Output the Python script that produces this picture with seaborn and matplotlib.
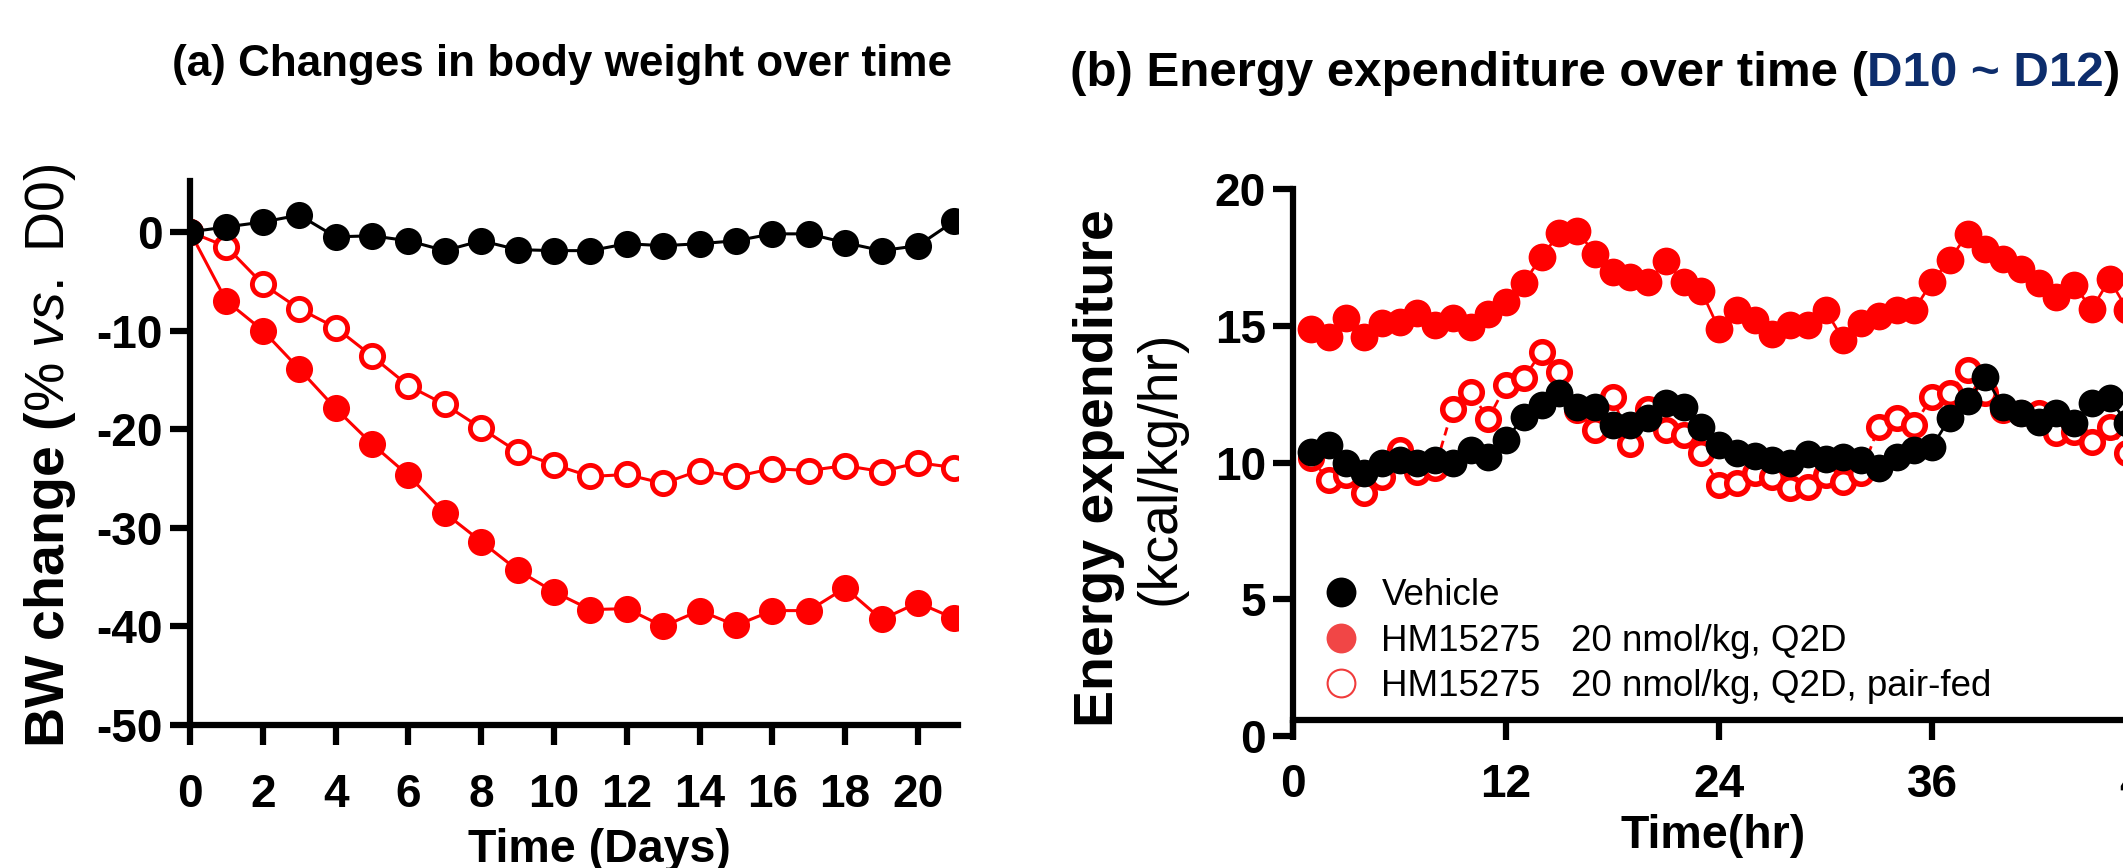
import numpy as np
import pandas as pd
import matplotlib
matplotlib.use("Agg")
import matplotlib.pyplot as plt
import seaborn as sns
from matplotlib.lines import Line2D

# ---- data ----
days = list(range(0, 22))
bw_vehicle = [0, 0.5, 1.0, 1.7, -0.5, -0.4, -0.9, -1.9, -0.9, -1.8, -1.9,
              -1.9, -1.2, -1.4, -1.2, -0.9, -0.2, -0.2, -1.1, -1.9, -1.4, 1.1]
bw_hm = [0, -7.0, -10.0, -13.9, -17.9, -21.5, -24.7, -28.5, -31.4, -34.3, -36.5,
         -38.3, -38.2, -40.0, -38.4, -39.9, -38.4, -38.4, -36.1, -39.3, -37.6, -39.2]
bw_pairfed = [0, -1.5, -5.3, -7.8, -9.7, -12.6, -15.6, -17.5, -19.9, -22.3, -23.6,
              -24.8, -24.6, -25.5, -24.2, -24.8, -24.0, -24.2, -23.7, -24.3, -23.4, -23.9]

hours = list(range(1, 48))
ee_vehicle = [10.40, 10.65, 9.98, 9.61, 9.98, 10.10, 9.98, 10.10, 9.98, 10.46, 10.22, 10.83,
              11.68, 12.11, 12.54, 12.05, 12.05, 11.38, 11.38, 11.63, 12.17, 12.05, 11.32, 10.65,
              10.34, 10.24, 10.10, 9.98, 10.32, 10.12, 10.19, 10.10, 9.79, 10.22, 10.46, 10.58,
              11.63, 12.24, 13.15, 12.03, 11.81, 11.50, 11.81, 11.44, 12.17, 12.35, 11.44]
ee_hm = [14.88, 14.60, 15.28, 14.60, 15.10, 15.16, 15.46, 15.04, 15.28, 14.98, 15.44, 15.89,
         16.59, 17.52, 18.39, 18.49, 17.64, 16.99, 16.78, 16.62, 17.36, 16.62, 16.29, 14.88,
         15.59, 15.22, 14.71, 15.04, 15.04, 15.59, 14.49, 15.10, 15.37, 15.59, 15.59, 16.62,
         17.42, 18.37, 17.81, 17.44, 17.08, 16.56, 16.07, 16.50, 15.61, 16.71, 15.59]
ee_pairfed = [10.16, 9.37, 9.55, 8.88, 9.49, 10.46, 9.67, 9.80, 11.98, 12.59, 11.61, 12.83,
              13.08, 14.06, 13.33, 11.92, 11.19, 12.41, 10.70, 11.98, 11.19, 11.01, 10.34, 9.18,
              9.24, 9.61, 9.49, 9.06, 9.12, 9.55, 9.30, 9.61, 11.32, 11.62, 11.38, 12.41,
              12.53, 13.39, 12.53, 11.92, 11.80, 11.80, 11.07, 11.13, 10.77, 11.32, 10.34]

legend_labels = ["Vehicle",
                 "HM15275" + " " * 3 + "20 nmol/kg, Q2D",
                 "HM15275" + " " * 3 + "20 nmol/kg, Q2D, pair-fed"]

df_bw = pd.DataFrame({"day": days, "veh": bw_vehicle, "hm": bw_hm, "pf": bw_pairfed})
df_ee = pd.DataFrame({"hr": hours, "veh": ee_vehicle, "hm": ee_hm, "pf": ee_pairfed})

sns.set_style("ticks")
plt.rcParams["font.family"] = ["Liberation Sans", "DejaVu Sans"]
plt.rcParams["mathtext.fontset"] = "custom"
plt.rcParams["mathtext.rm"] = "Liberation Sans"
plt.rcParams["mathtext.it"] = "Liberation Sans:italic"
plt.rcParams["mathtext.bf"] = "Liberation Sans:bold"
plt.rcParams["axes.unicode_minus"] = False
for key in ("text.color", "axes.edgecolor", "axes.labelcolor", "xtick.color", "ytick.color"):
    plt.rcParams[key] = "black"

W, H = 2123, 868
RED = "#ff0000"
fig = plt.figure(figsize=(W / 100, H / 100), dpi=100)


def box(x0, y0, x1, y1):
    # pixel box (top-left origin) -> figure fraction
    return [x0 / W, 1 - y1 / H, (x1 - x0) / W, (y1 - y0) / H]


ax1 = fig.add_axes(box(190, 180.6, 958, 725))
ax2 = fig.add_axes(box(1293, 189.3, 2145, 736))

# (a) body weight
sns.lineplot(data=df_bw, x="day", y="hm", ax=ax1, color=RED, lw=2.2, marker="o",
             markersize=19.5, markeredgewidth=0, markeredgecolor=RED, errorbar=None)
sns.lineplot(data=df_bw, x="day", y="pf", ax=ax1, color=RED, lw=2.2, marker="o",
             markersize=16, markerfacecolor="white", markeredgecolor=RED,
             markeredgewidth=3.5, errorbar=None)
sns.lineplot(data=df_bw, x="day", y="veh", ax=ax1, color="black", lw=2.2, marker="o",
             markersize=19.5, markeredgewidth=0, markeredgecolor="black", errorbar=None)
ax1.set_xlim(0, 21.1)
ax1.set_ylim(-50, 5.2)
ax1.set_xticks(range(0, 21, 2))
ax1.set_yticks(range(-50, 1, 10))

# (b) energy expenditure
sns.lineplot(data=df_ee, x="hr", y="hm", ax=ax2, color=RED, lw=2, marker="o",
             markersize=20, markeredgewidth=0, markeredgecolor=RED, errorbar=None)
sns.lineplot(data=df_ee, x="hr", y="pf", ax=ax2, color=RED, lw=2, linestyle=(0, (3, 2)),
             marker="o", markersize=15.5, markerfacecolor="white", markeredgecolor=RED,
             markeredgewidth=4, errorbar=None)
sns.lineplot(data=df_ee, x="hr", y="veh", ax=ax2, color="black", lw=2, marker="o",
             markersize=20, markeredgewidth=0, markeredgecolor="black", errorbar=None)
ax2.set_xlim(0, 48)
ax2.set_ylim(0, 20)
ax2.set_xticks([0, 12, 24, 36, 48])
ax2.set_yticks([0, 5, 10, 15, 20])
ax2.spines["bottom"].set_position(("data", 0.6))

for ax, xpad in ((ax1, 20), (ax2, 17)):
    ax.set_xlabel("")
    ax.set_ylabel("")
    for side in ("top", "right"):
        ax.spines[side].set_visible(False)
    for side in ("left", "bottom"):
        ax.spines[side].set_linewidth(4.5)
        ax.spines[side].set_color("black")
        ax.spines[side].set_capstyle("projecting")
    ax.tick_params(axis="both", width=4.5, length=14.5, labelsize=33, color="black",
                   labelcolor="black")
    ax.tick_params(axis="x", pad=xpad)
    ax.tick_params(axis="y", pad=5)
    plt.setp(ax.get_xticklabels() + ax.get_yticklabels(), fontweight="bold")
    ax.patch.set_alpha(0)

# axis titles
fig.text(50 / W, 1 - 455.5 / H,
         r"$\mathbf{BW\ change\ (}\mathrm{\%\ }\mathit{vs.}\mathrm{\ D0)}$",
         rotation=90, ha="center", va="center", fontsize=40)
fig.text(1099 / W, 1 - 468 / H, "Energy expenditure", rotation=90, ha="center",
         va="center", fontsize=40, fontweight="bold")
fig.text(1161 / W, 1 - 468 / H, "(kcal/kg/hr)", rotation=90, ha="center",
         va="center", fontsize=40)
fig.text(599.5 / W, 1 - 862 / H, "Time (Days)", ha="center", va="baseline",
         fontsize=33.5, fontweight="bold")
fig.text(1713.5 / W, 1 - 848 / H, "Time(hr)", ha="center", va="baseline",
         fontsize=33.5, fontweight="bold")

# panel titles
fig.text(561.6 / W, 1 - 76 / H, "(a) Changes in body weight over time", ha="center",
         va="baseline", fontsize=31.7, fontweight="bold")
t1 = fig.text(1069.6 / W, 1 - 86 / H, "(b) Energy expenditure over time (", ha="left",
              va="baseline", fontsize=35.5, fontweight="bold")
t2 = ax2.annotate("D10 ~ D12", xy=(1, 0), xycoords=t1, ha="left", va="bottom",
                  fontsize=35.5, fontweight="bold", color="#0d2d6c")
ax2.annotate(")", xy=(1, 0), xycoords=t2, ha="left", va="bottom",
             fontsize=35.5, fontweight="bold", color="black")

# legend
handles = [
    Line2D([], [], ls="none", marker="o", ms=21.5, mfc="black", mec="black", mew=0),
    Line2D([], [], ls="none", marker="o", ms=21.5, mfc="#f14646", mec="#f14646", mew=0),
    Line2D([], [], ls="none", marker="o", ms=20, mfc="white", mec="#f03c3c", mew=1.5),
]
ax2.legend(handles, legend_labels, loc="upper left",
           bbox_to_anchor=(1322.6 / W, 1 - 578 / H), bbox_transform=fig.transFigure,
           frameon=False, fontsize=26.5, handlelength=1.0, handletextpad=0.6,
           borderpad=0, borderaxespad=0, labelspacing=0.29)

fig.savefig("out.png", dpi=100)
